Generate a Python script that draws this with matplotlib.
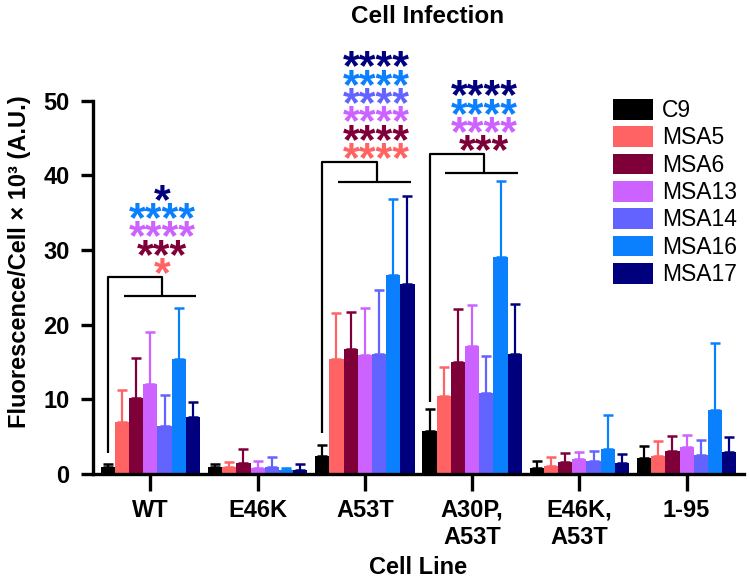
import matplotlib
matplotlib.use('Agg')
import matplotlib.pyplot as plt
import numpy as np

plt.rcParams['font.family'] = ['Liberation Sans', 'DejaVu Sans']

cell_lines = ['WT', 'E46K', 'A53T', 'A30P,\nA53T', 'E46K,\nA53T', '1-95']
samples = ['C9', 'MSA5', 'MSA6', 'MSA13', 'MSA14', 'MSA16', 'MSA17']
colors = ['#000000', '#FF6363', '#7F0038', '#CC62FF', '#6363FF', '#0A80FF', '#00007F']

# means (A.U. x 10^3), one list per sample, ordered like cell_lines
c9 = [0.9, 1.0, 2.4, 5.7, 0.8, 2.2]
msa5 = [7.0, 0.9, 15.4, 10.5, 1.1, 2.4]
msa6 = [10.2, 1.5, 16.7, 15.0, 1.6, 3.1]
msa13 = [12.0, 0.8, 15.9, 17.1, 2.0, 3.6]
msa14 = [6.4, 1.0, 16.1, 10.9, 1.8, 2.5]
msa16 = [15.4, 0.6, 26.6, 29.0, 3.3, 8.6]
msa17 = [7.6, 0.6, 25.5, 16.1, 1.5, 3.0]

# upper error bars
c9_err = [0.5, 0.4, 1.5, 3.0, 1.0, 1.6]
msa5_err = [4.3, 0.7, 6.1, 3.8, 1.2, 2.0]
msa6_err = [5.3, 1.8, 5.0, 7.1, 1.2, 2.0]
msa13_err = [7.0, 1.0, 6.3, 5.6, 0.9, 1.6]
msa14_err = [4.2, 1.3, 8.5, 4.9, 1.3, 2.0]
msa16_err = [6.9, 0.2, 10.3, 10.3, 4.6, 8.9]
msa17_err = [2.0, 0.8, 11.7, 6.7, 1.2, 1.9]

means = [c9, msa5, msa6, msa13, msa14, msa16, msa17]
errs = [c9_err, msa5_err, msa6_err, msa13_err, msa14_err, msa16_err, msa17_err]

# significance brackets (C9 vs. MSA samples)
bracket_groups = [0, 2, 3]
bracket_low = [23.8, 39.1, 40.3]
bracket_high = [26.4, 41.8, 42.8]
bracket_c9 = [2.8, 5.5, 9.6]
# stars per bracket, bottom row first: (sample index, number of stars)
stars = [
	[(1, 1), (2, 3), (3, 4), (5, 4), (6, 1)],
	[(1, 4), (2, 4), (3, 4), (4, 4), (5, 4), (6, 4)],
	[(2, 3), (3, 4), (5, 4), (6, 4)],
]

fig = plt.figure(figsize=(7.5, 5.81), dpi=100)
ax = fig.add_axes([93/750, 1-474/581, 651/750, 373.3/581])

x = np.arange(len(cell_lines))
w = 0.1324
handles = []
for i in range(len(samples)):
	xs = x + (i - 3) * w
	b = ax.bar(xs, means[i], w, color=colors[i], linewidth=0, zorder=2)
	handles.append(b)
	ax.errorbar(xs, means[i], yerr=[np.zeros(len(x)), errs[i]], fmt='none',
		ecolor=colors[i], elinewidth=1.6, capsize=3.6, capthick=1.8, zorder=1)

star_fs = 31
for k, g in enumerate(bracket_groups):
	xc9 = x[g] - 3 * w
	xd = x[g] + 0.11
	lo, hi = bracket_low[k], bracket_high[k]
	kw = dict(color='k', lw=1.6, solid_capstyle='butt')
	ax.plot([xc9, xc9, xd, xd], [bracket_c9[k], hi, hi, lo], **kw)
	ax.plot([x[g] - 2 * w + 0.015, x[g] + 3 * w + 0.03], [lo, lo], **kw)
	for r, (si, n) in enumerate(stars[k]):
		off = 10.8 + 13.2 * r - 0.56 * star_fs
		ax.annotate('*' * n, xy=(xd, hi), xytext=(0, off), textcoords='offset points',
			ha='center', va='baseline', fontsize=star_fs, fontweight='bold',
			color=colors[si])

ax.set_xlim(-0.535, 5.535)
ax.set_ylim(0, 50)
ax.set_yticks([0, 10, 20, 30, 40, 50])
ax.set_xticks(x)
ax.set_xticklabels(cell_lines)
for s in ['top', 'right']:
	ax.spines[s].set_visible(False)
for s in ['left', 'bottom']:
	ax.spines[s].set_linewidth(2.4)
ax.tick_params(axis='y', length=9, width=2.4, pad=8, labelsize=17)
ax.tick_params(axis='x', length=12, width=2.4, pad=6, labelsize=17)
for lab in ax.get_xticklabels() + ax.get_yticklabels():
	lab.set_fontweight('bold')

fig.text(20/750, 1-262/581, 'Fluorescence/Cell \u00d7 10\u00b3 (A.U.)', rotation=90,
	ha='center', va='center', fontsize=17, fontweight='bold')
fig.text(428/750, 1-23/581, 'Cell Infection', ha='center', va='baseline',
	fontsize=17.5, fontweight='bold')
fig.text(418/750, 1-574/581, 'Cell Line', ha='center', va='baseline',
	fontsize=17, fontweight='bold')

ax.legend(handles, samples, loc='upper left', bbox_to_anchor=(613/750, 1-99/581),
	bbox_transform=fig.transFigure, frameon=False, fontsize=16.5, borderpad=0,
	borderaxespad=0, handlelength=1.75, handleheight=1.0, labelspacing=0.185,
	handletextpad=0.4)

fig.savefig('out.png', dpi=100)
